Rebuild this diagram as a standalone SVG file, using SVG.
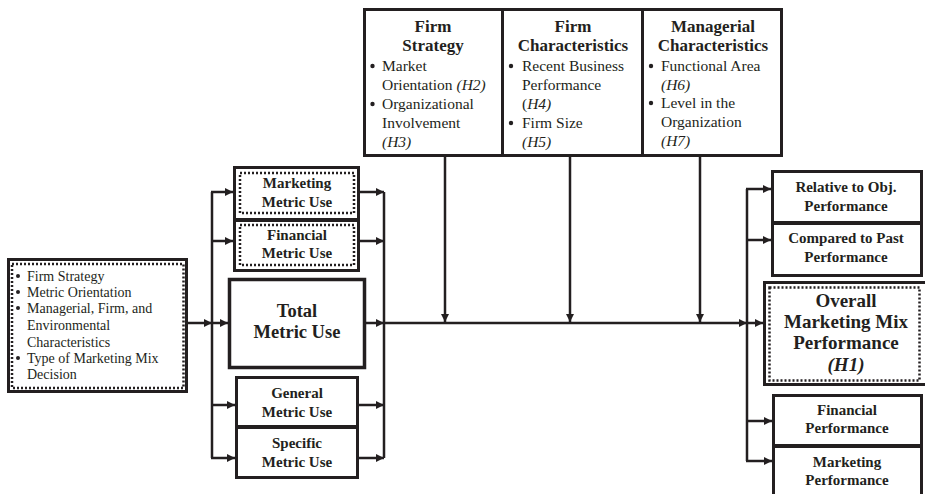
<svg xmlns="http://www.w3.org/2000/svg" width="925" height="494" viewBox="0 0 925 494">
<style>
.box{fill:#fff;stroke:#231f20;stroke-width:3}
.dot{fill:none;stroke:#231f20;stroke-width:2.5;stroke-dasharray:2 2}
.ln{fill:none;stroke:#231f20;stroke-width:2.5}
.t{font-family:"Liberation Serif","Times New Roman",serif;fill:#231f20}
.b{font-weight:bold;text-anchor:middle}
.s15{font-size:15px}
.s14{font-size:14px}
.s17{font-size:17px}
.i{font-style:italic}
</style>
<defs>
<marker id="ah" viewBox="0 0 10 10" markerUnits="userSpaceOnUse" markerWidth="9" markerHeight="8" refX="10" refY="5" orient="auto">
<path d="M0,0 L10,5 L0,10 z" fill="#231f20"/>
</marker>
</defs>
<rect width="925" height="494" fill="#fff"/>

<g id="connectors">
<line class="ln" x1="188" y1="323" x2="212" y2="323" marker-end="url(#ah)"/>
<line class="ln" x1="212" y1="192" x2="212" y2="458"/>
<line class="ln" x1="211" y1="192" x2="233" y2="192" marker-end="url(#ah)"/>
<line class="ln" x1="211" y1="241" x2="233" y2="241" marker-end="url(#ah)"/>
<line class="ln" x1="212" y1="323" x2="228" y2="323" marker-end="url(#ah)"/>
<line class="ln" x1="211" y1="405" x2="235" y2="405" marker-end="url(#ah)"/>
<line class="ln" x1="211" y1="458" x2="235" y2="458" marker-end="url(#ah)"/>
<line class="ln" x1="360" y1="192" x2="384" y2="192" marker-end="url(#ah)"/>
<line class="ln" x1="360" y1="241" x2="384" y2="241" marker-end="url(#ah)"/>
<line class="ln" x1="366" y1="323" x2="384" y2="323" marker-end="url(#ah)"/>
<line class="ln" x1="359" y1="405" x2="384" y2="405" marker-end="url(#ah)"/>
<line class="ln" x1="359" y1="458" x2="384" y2="458" marker-end="url(#ah)"/>
<line class="ln" x1="384" y1="192" x2="384" y2="458"/>
<line class="ln" x1="384" y1="323" x2="747" y2="323" marker-end="url(#ah)"/>
<line class="ln" x1="445" y1="157" x2="445" y2="322" marker-end="url(#ah)"/>
<line class="ln" x1="570" y1="157" x2="570" y2="322" marker-end="url(#ah)"/>
<line class="ln" x1="700" y1="157" x2="700" y2="322" marker-end="url(#ah)"/>
<line class="ln" x1="747" y1="189" x2="747" y2="461"/>
<line class="ln" x1="746" y1="189" x2="771" y2="189" marker-end="url(#ah)"/>
<line class="ln" x1="746" y1="240" x2="771" y2="240" marker-end="url(#ah)"/>
<line class="ln" x1="747" y1="323" x2="763" y2="323" marker-end="url(#ah)"/>
<line class="ln" x1="746" y1="421" x2="772" y2="421" marker-end="url(#ah)"/>
<line class="ln" x1="746" y1="461" x2="772" y2="461" marker-end="url(#ah)"/>
</g>

<g id="antecedents">
<rect class="box" x="8.5" y="259.5" width="178" height="132"/>
<rect class="dot" x="12" y="264" width="171.5" height="124"/>
<g class="t s14">
<circle cx="18" cy="276" r="2"/><text x="27" y="281">Firm Strategy</text>
<circle cx="18" cy="292" r="2"/><text x="27" y="297">Metric Orientation</text>
<circle cx="18" cy="308" r="2"/><text x="27" y="313">Managerial, Firm, and</text>
<text x="27" y="330">Environmental</text>
<text x="27" y="347">Characteristics</text>
<circle cx="18" cy="358" r="2"/><text x="27" y="363">Type of Marketing Mix</text>
<text x="27" y="379">Decision</text>
</g>
</g>

<g id="marketing-metric-use">
<rect class="box" x="234.5" y="167.5" width="124" height="52"/>
<rect class="dot" x="240" y="173" width="114" height="40"/>
<text class="t b s15" x="297" y="188">Marketing</text>
<text class="t b s15" x="297" y="207">Metric Use</text>
</g>
<g id="financial-metric-use">
<rect class="box" x="234.5" y="220.5" width="124" height="50"/>
<rect class="dot" x="240" y="225" width="114" height="40"/>
<text class="t b s15" x="297" y="240">Financial</text>
<text class="t b s15" x="297" y="258">Metric Use</text>
</g>
<g id="total-metric-use">
<rect class="box" x="229.5" y="279.5" width="135" height="88" style="stroke-width:3.5"/>
<text class="t b" x="297" y="317" font-size="18.5">Total</text>
<text class="t b" x="297" y="338" font-size="18.5">Metric Use</text>
</g>
<g id="general-metric-use">
<rect class="box" x="236.5" y="377.5" width="121" height="49"/>
<text class="t b s15" x="297" y="398">General</text>
<text class="t b s15" x="297" y="417">Metric Use</text>
</g>
<g id="specific-metric-use">
<rect class="box" x="236.5" y="427.5" width="121" height="50"/>
<text class="t b s15" x="297" y="448">Specific</text>
<text class="t b s15" x="297" y="467">Metric Use</text>
</g>

<g id="moderators">
<rect class="box" x="364.5" y="9.5" width="417" height="146"/>
<line class="box" x1="502.5" y1="9.5" x2="502.5" y2="155.5"/>
<line class="box" x1="642.5" y1="9.5" x2="642.5" y2="155.5"/>
</g>
<g id="firm-strategy">
<text class="t b s17" x="433" y="32">Firm</text>
<text class="t b s17" x="433" y="51">Strategy</text>
<g class="t" font-size="15.5">
<circle cx="372.5" cy="66" r="2.2"/><text x="382" y="71">Market</text>
<text x="382" y="90">Orientation <tspan class="i">(H2)</tspan></text>
<circle cx="372.5" cy="104" r="2.2"/><text x="382" y="109">Organizational</text>
<text x="382" y="128">Involvement</text>
<text x="382" y="147" class="i">(H3)</text>
</g>
</g>
<g id="firm-characteristics">
<text class="t b s17" x="573" y="32">Firm</text>
<text class="t b s17" x="573" y="51">Characteristics</text>
<g class="t" font-size="15.5">
<circle cx="511" cy="66" r="2.2"/><text x="522" y="71">Recent Business</text>
<text x="522" y="90">Performance</text>
<text x="522" y="109">(<tspan class="i">H4)</tspan></text>
<circle cx="511" cy="123" r="2.2"/><text x="522" y="128">Firm Size</text>
<text x="522" y="147" class="i">(H5)</text>
</g>
</g>
<g id="managerial-characteristics">
<text class="t b s17" x="713" y="32">Managerial</text>
<text class="t b s17" x="713" y="51">Characteristics</text>
<g class="t" font-size="15.5">
<circle cx="651" cy="66" r="2.2"/><text x="661" y="71">Functional Area</text>
<text x="661" y="90" class="i">(H6)</text>
<circle cx="651" cy="103" r="2.2"/><text x="661" y="108">Level in the</text>
<text x="661" y="127">Organization</text>
<text x="661" y="146" class="i">(H7)</text>
</g>
</g>

<g id="relative-to-obj">
<rect class="box" x="772.5" y="171.5" width="149" height="51"/>
<text class="t b s15" x="846" y="192">Relative to Obj.</text>
<text class="t b s15" x="846" y="211">Performance</text>
</g>
<g id="compared-to-past">
<rect class="box" x="772.5" y="223.5" width="149" height="52"/>
<text class="t b s15" x="846" y="243">Compared to Past</text>
<text class="t b s15" x="846" y="262">Performance</text>
</g>
<g id="overall-performance">
<rect class="box" x="764.5" y="282.5" width="164" height="102"/>
<rect class="dot" x="769.5" y="287.5" width="150" height="93"/>
<text class="t b" x="846" y="307" font-size="19">Overall</text>
<text class="t b" x="846" y="328" font-size="19">Marketing Mix</text>
<text class="t b" x="846" y="349" font-size="19">Performance</text>
<text class="t b i" x="846" y="371" font-size="19">(H1)</text>
</g>
<g id="financial-performance">
<rect class="box" x="773.5" y="395.5" width="148" height="50"/>
<text class="t b s15" x="847" y="415">Financial</text>
<text class="t b s15" x="847" y="433">Performance</text>
</g>
<g id="marketing-performance">
<rect class="box" x="773.5" y="446.5" width="148" height="55"/>
<text class="t b s15" x="847" y="467">Marketing</text>
<text class="t b s15" x="847" y="485">Performance</text>
</g>
</svg>
